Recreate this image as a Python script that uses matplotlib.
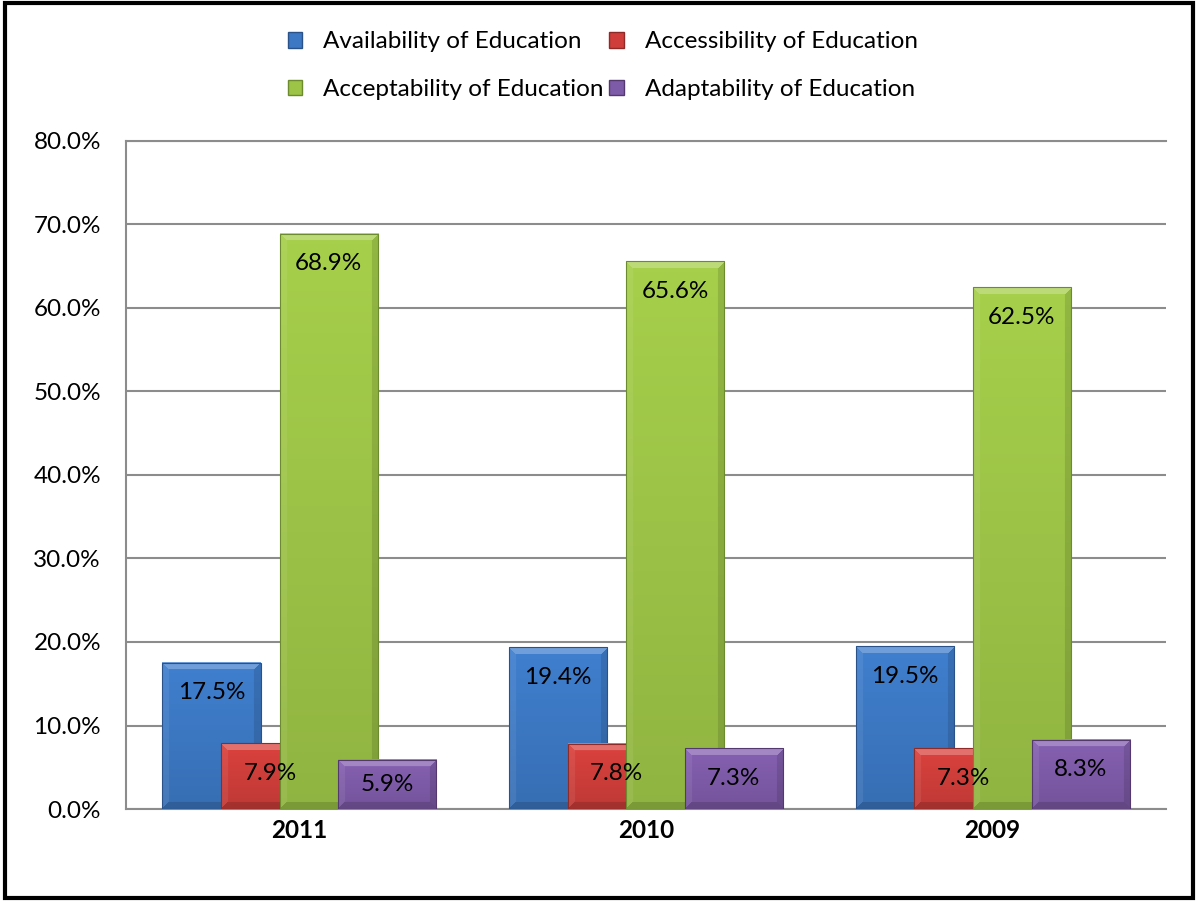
import numpy as np
import matplotlib
matplotlib.use("Agg")
import matplotlib.pyplot as plt
from matplotlib.patches import Patch, Rectangle
from matplotlib.ticker import FuncFormatter

plt.rcParams['font.family'] = ['Lato', 'DejaVu Sans']

# Survey shares per year
years = ['2011', '2010', '2009']
series = ['Availability of Education', 'Accessibility of Education',
          'Acceptability of Education', 'Adaptability of Education']
availability = [17.5, 19.4, 19.5]
accessibility = [7.9, 7.8, 7.3]
acceptability = [68.9, 65.6, 62.5]
adaptability = [5.9, 7.3, 8.3]

colors = ['#3c78c3', '#cf3e3a', '#9dc447', '#7e5ba8']
edges = ['#2a5288', '#8e2a27', '#6c8a2e', '#54396f']
fs = 17.5

fig = plt.figure(figsize=(11.98, 9.02), dpi=100)
ax = fig.add_axes([0.1052, 0.1031, 0.8681, 0.7406])
ax.set_xlim(-0.5, 2.5)
ax.set_ylim(0, 80)

x = np.arange(len(years))
width = 0.283
step = 0.169
offsets = [-1.5 * step, -0.5 * step, 0.5 * step, 1.5 * step]

# pixel scale of data units, used for the bevel shading
ax_w_px = fig.get_figwidth() * fig.dpi * 0.8681
ax_h_px = fig.get_figheight() * fig.dpi * 0.7406
px_x = ax_w_px / 3.0
px_y = ax_h_px / 80.0


def bevel_image(rgb, w_px, h_px, b=7):
    w_px = max(int(round(w_px)), 2)
    h_px = max(int(round(h_px)), 2)
    rgb = np.array(matplotlib.colors.to_rgb(rgb))
    ii, jj = np.mgrid[0:h_px, 0:w_px]
    t = ii / max(h_px - 1, 1)
    img = rgb[None, None, :] * (1.06 - 0.14 * t)[..., None]
    d_top = ii
    d_bot = h_px - 1 - ii
    d_left = jj
    d_right = w_px - 1 - jj
    dmin = np.minimum(np.minimum(d_top, d_bot), np.minimum(d_left, d_right))
    edge = dmin < b
    top = edge & (d_top == dmin)
    bot = edge & (d_bot == dmin) & ~top
    left = edge & (d_left == dmin) & ~top & ~bot
    right = edge & (d_right == dmin) & ~top & ~bot & ~left
    white = np.ones(3)
    img[top] = img[top] * 0.75 + white * 0.25
    img[left] = img[left] * 0.93 + white * 0.07
    img[right] = img[right] * 0.88
    img[bot] = img[bot] * 0.85
    return np.clip(img, 0, 1)


data = [availability, accessibility, acceptability, adaptability]
for i, vals in enumerate(data):
    z = 3 + 2 * i
    bars = ax.bar(x + offsets[i], vals, width, facecolor='none',
                  edgecolor=edges[i], linewidth=0.8, zorder=z + 1,
                  label=series[i])
    for bar in bars:
        x0 = bar.get_x()
        w = bar.get_width()
        h = bar.get_height()
        img = bevel_image(colors[i], w * px_x, h * px_y)
        ax.imshow(img, extent=(x0, x0 + w, 0, h), aspect='auto',
                  interpolation='bilinear', zorder=z)
        ly = max(h - 3.6, h / 2)
        ax.text(x0 + w / 2, ly, f'{h:.1f}%', ha='center', va='center',
                fontsize=fs, color='black', zorder=20)

ax.set_xlim(-0.5, 2.5)
ax.set_ylim(0, 80)

ax.set_yticks(np.arange(0, 81, 10))
ax.yaxis.set_major_formatter(FuncFormatter(lambda v, p: f'{v:.1f}%'))
ax.set_xticks(x)
ax.set_xticklabels(years, fontweight='bold')
ax.tick_params(axis='both', length=0, labelsize=fs)
ax.tick_params(axis='y', pad=18)
ax.tick_params(axis='x', pad=7)

ax.yaxis.grid(True, color='#8c8c8c', linewidth=1.5)
ax.set_axisbelow(True)
for s in ['left', 'bottom', 'top']:
    ax.spines[s].set_color('#8c8c8c')
    ax.spines[s].set_linewidth(1.5)
ax.spines['right'].set_visible(False)

# legend: two rows, filled column-wise
handles = [Patch(facecolor=colors[k], edgecolor=edges[k]) for k in range(4)]
order = [0, 2, 1, 3]
fig.legend([handles[k] for k in order], [series[k] for k in order],
           ncol=2, loc='center', bbox_to_anchor=(0.503, 0.927),
           frameon=False, fontsize=fs, handlelength=0.6, handleheight=0.6,
           handletextpad=0.85, columnspacing=0.25, labelspacing=1.1)

# outer chart border
fig.patches.append(Rectangle((0.004, 0.004), 0.992, 0.993,
                             transform=fig.transFigure, fill=False,
                             edgecolor='black', linewidth=3))

fig.savefig('out.png', dpi=100)
